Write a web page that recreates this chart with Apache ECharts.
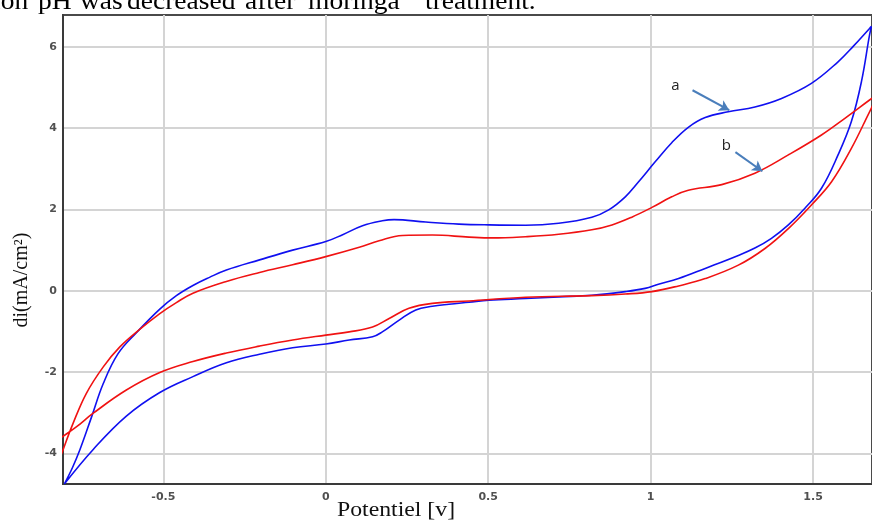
<!DOCTYPE html>
<html>
<head>
<meta charset="utf-8">
<script src="https://cdn.jsdelivr.net/npm/echarts@6/dist/echarts.min.js"></script>
<style>
  html, body { margin: 0; padding: 0; background: #ffffff; }
  #chart { width: 872px; height: 525px; }
</style>
</head>
<body>
<div id="chart"></div>
<script>
// Cyclic voltammograms: current density di (mA/cm²) against potential (V).
// Each curve is one closed sweep: anodic branch first, then the return branch.

// Curve a (blue)
const curveA_potential = [
  -0.805, -0.780, -0.757, -0.721, -0.685, -0.639, -0.583, -0.511, -0.460, -0.409,
  -0.358, -0.306, -0.204, -0.102, 0.000, 0.052, 0.113, 0.174, 0.210, 0.308,
  0.410, 0.502, 0.615, 0.717, 0.819, 0.871, 0.922, 0.963, 1.014, 1.065,
  1.116, 1.168, 1.239, 1.321, 1.403, 1.495, 1.577, 1.625, 1.674, 1.680,
  1.674, 1.649, 1.618, 1.577, 1.526, 1.475, 1.424, 1.372, 1.321, 1.270,
  1.168, 1.086, 1.024, 0.983, 0.922, 0.819, 0.717, 0.615, 0.502, 0.441,
  0.379, 0.328, 0.277, 0.226, 0.174, 0.144, 0.072, 0.000, -0.102, -0.204,
  -0.306, -0.409, -0.511, -0.614, -0.716, -0.805
];
const curveA_current = [
  -4.75, -4.35, -3.91, -3.10, -2.28, -1.54, -1.03, -0.45, -0.12, 0.13,
  0.33, 0.51, 0.76, 1.00, 1.21, 1.38, 1.60, 1.72, 1.75, 1.69,
  1.64, 1.62, 1.61, 1.66, 1.81, 1.99, 2.31, 2.68, 3.17, 3.64,
  4.02, 4.26, 4.40, 4.52, 4.73, 5.10, 5.63, 6.02, 6.45, 6.50,
  6.29, 5.14, 4.16, 3.34, 2.52, 2.03, 1.62, 1.29, 1.05, 0.87,
  0.55, 0.30, 0.16, 0.06, -0.02, -0.11, -0.15, -0.19, -0.23, -0.28,
  -0.33, -0.38, -0.47, -0.72, -1.01, -1.13, -1.21, -1.31, -1.40, -1.56,
  -1.77, -2.11, -2.50, -3.08, -3.90, -4.75
];

// Curve b (red)
const curveB_potential = [
  -0.840, -0.813, -0.778, -0.737, -0.685, -0.634, -0.573, -0.511, -0.460, -0.409,
  -0.306, -0.204, -0.102, 0.000, 0.103, 0.164, 0.236, 0.328, 0.441, 0.512,
  0.615, 0.717, 0.819, 0.881, 0.942, 1.004, 1.065, 1.116, 1.219, 1.321,
  1.424, 1.526, 1.598, 1.674, 1.703,
  1.674, 1.618, 1.557, 1.495, 1.424, 1.352, 1.270, 1.168, 1.086, 1.004,
  0.922, 0.819, 0.615, 0.441, 0.328, 0.256, 0.195, 0.144, 0.072, 0.000,
  -0.102, -0.204, -0.306, -0.409, -0.511, -0.614, -0.716, -0.767, -0.818, -0.850
];
const curveB_current = [
  -4.60, -4.00, -3.26, -2.52, -1.87, -1.38, -0.95, -0.56, -0.29, -0.06,
  0.23, 0.45, 0.64, 0.84, 1.07, 1.23, 1.36, 1.37, 1.32, 1.30,
  1.33, 1.39, 1.50, 1.62, 1.81, 2.05, 2.31, 2.47, 2.61, 2.89,
  3.34, 3.83, 4.24, 4.69, 4.86,
  4.40, 3.50, 2.68, 2.11, 1.53, 1.04, 0.63, 0.30, 0.12, -0.02,
  -0.08, -0.12, -0.16, -0.25, -0.31, -0.43, -0.68, -0.89, -1.01, -1.09,
  -1.21, -1.36, -1.53, -1.74, -2.01, -2.44, -3.01, -3.34, -3.63, -3.82
];

// Axis ticks and titles
const xTickValues = [-0.5, 0, 0.5, 1, 1.5];
const yTickValues = [-4, -2, 0, 2, 4, 6];
const xAxisTitle = 'Potentiel [v]';
const yAxisTitle = 'di(mA/cm²)';

// Curve labels with their pointer arrows (data coordinates)
const curveLabels = [
  { name: 'a', at: [1.076, 5.03], arrowFrom: [1.129, 4.93], arrowTo: [1.242, 4.44] },
  { name: 'b', at: [1.233, 3.56], arrowFrom: [1.261, 3.41], arrowTo: [1.344, 2.94] }
];

// Line of running text above the figure, word by word (justified)
const captionWords = ['ion', 'pH', 'was', 'decreased', 'after', 'moringa', 'treatment.'];
const captionWordX = [-7, 38, 80, 127, 245, 308, 425];

const pairs = (xs, ys) => xs.map((x, i) => [x, ys[i]]);

const chart = echarts.init(document.getElementById('chart'), null, { renderer: 'canvas' });

const tickLabelStyle = {
  fontFamily: 'DejaVu Sans',
  fontWeight: 'bold',
  fontSize: 11,
  color: '#505050'
};

function arrowMarkLine(color) {
  return {
    silent: true,
    symbol: ['none', 'arrow'],
    symbolSize: [9, 10],
    label: { show: false },
    lineStyle: { color: color, width: 2, type: 'solid' },
    data: curveLabels.map(l => [{ coord: l.arrowFrom }, { coord: l.arrowTo }])
  };
}

function labelMarkPoint() {
  return {
    silent: true,
    symbol: 'circle',
    symbolSize: 0,
    label: {
      show: true,
      position: 'inside',
      formatter: '{b}',
      fontFamily: 'Open Sans',
      fontSize: 15,
      color: '#1e1e1e'
    },
    data: curveLabels.map(l => ({ name: l.name, coord: l.at }))
  };
}

const option = {
  animation: false,
  backgroundColor: '#ffffff',
  grid: {
    left: 63, right: -2, top: 15, bottom: 41,
    show: true,
    borderColor: '#4a4a4a',
    borderWidth: 2,
    containLabel: false
  },
  xAxis: {
    type: 'value',
    min: -0.809,
    max: 1.6815,
    axisLine: { show: true, onZero: false, lineStyle: { color: '#3a3a3a', width: 2 } },
    axisTick: { show: false, customValues: xTickValues },
    axisLabel: Object.assign({ customValues: xTickValues, margin: 8, formatter: v => String(v) }, tickLabelStyle),
    splitLine: { show: true, lineStyle: { color: '#d4d4d4', width: 2 } }
  },
  yAxis: {
    type: 'value',
    min: -4.75,
    max: 6.78,
    axisLine: { show: true, onZero: false, lineStyle: { color: '#3a3a3a', width: 2 } },
    axisTick: { show: false, customValues: yTickValues },
    axisLabel: Object.assign({ customValues: yTickValues, margin: 6, formatter: v => String(v) }, tickLabelStyle),
    splitLine: { show: true, lineStyle: { color: '#d4d4d4', width: 2 } }
  },
  series: [
    {
      name: 'a',
      type: 'line',
      data: pairs(curveA_potential, curveA_current),
      smooth: 0.4,
      showSymbol: false,
      clip: true,
      lineStyle: { color: '#1010f0', width: 1.6 },
      markLine: arrowMarkLine('#4a7ebb'),
      markPoint: labelMarkPoint()
    },
    {
      name: 'b',
      type: 'line',
      data: pairs(curveB_potential, curveB_current),
      smooth: 0.4,
      showSymbol: false,
      clip: true,
      lineStyle: { color: '#f01212', width: 1.6 }
    }
  ],
  graphic: [
    {
      type: 'text',
      x: 22, y: 280,
      rotation: Math.PI / 2,
      style: {
        text: yAxisTitle,
        fontFamily: 'Liberation Serif',
        fontSize: 20,
        fill: '#111111',
        align: 'center',
        verticalAlign: 'middle'
      }
    },
    {
      type: 'text',
      x: 396, y: 510,
      scaleX: 1.08,
      style: {
        text: xAxisTitle,
        fontFamily: 'Liberation Serif',
        fontSize: 22,
        fill: '#111111',
        align: 'center',
        verticalAlign: 'middle'
      }
    }
  ].concat(captionWords.map((w, i) => ({
    type: 'text',
    x: captionWordX[i], y: 2,
    scaleX: 1.1,
    style: {
      text: w,
      fontFamily: 'Liberation Serif',
      fontSize: 25,
      fill: '#000000',
      align: 'left',
      verticalAlign: 'middle'
    }
  })))
};

chart.setOption(option);
</script>
</body>
</html>
